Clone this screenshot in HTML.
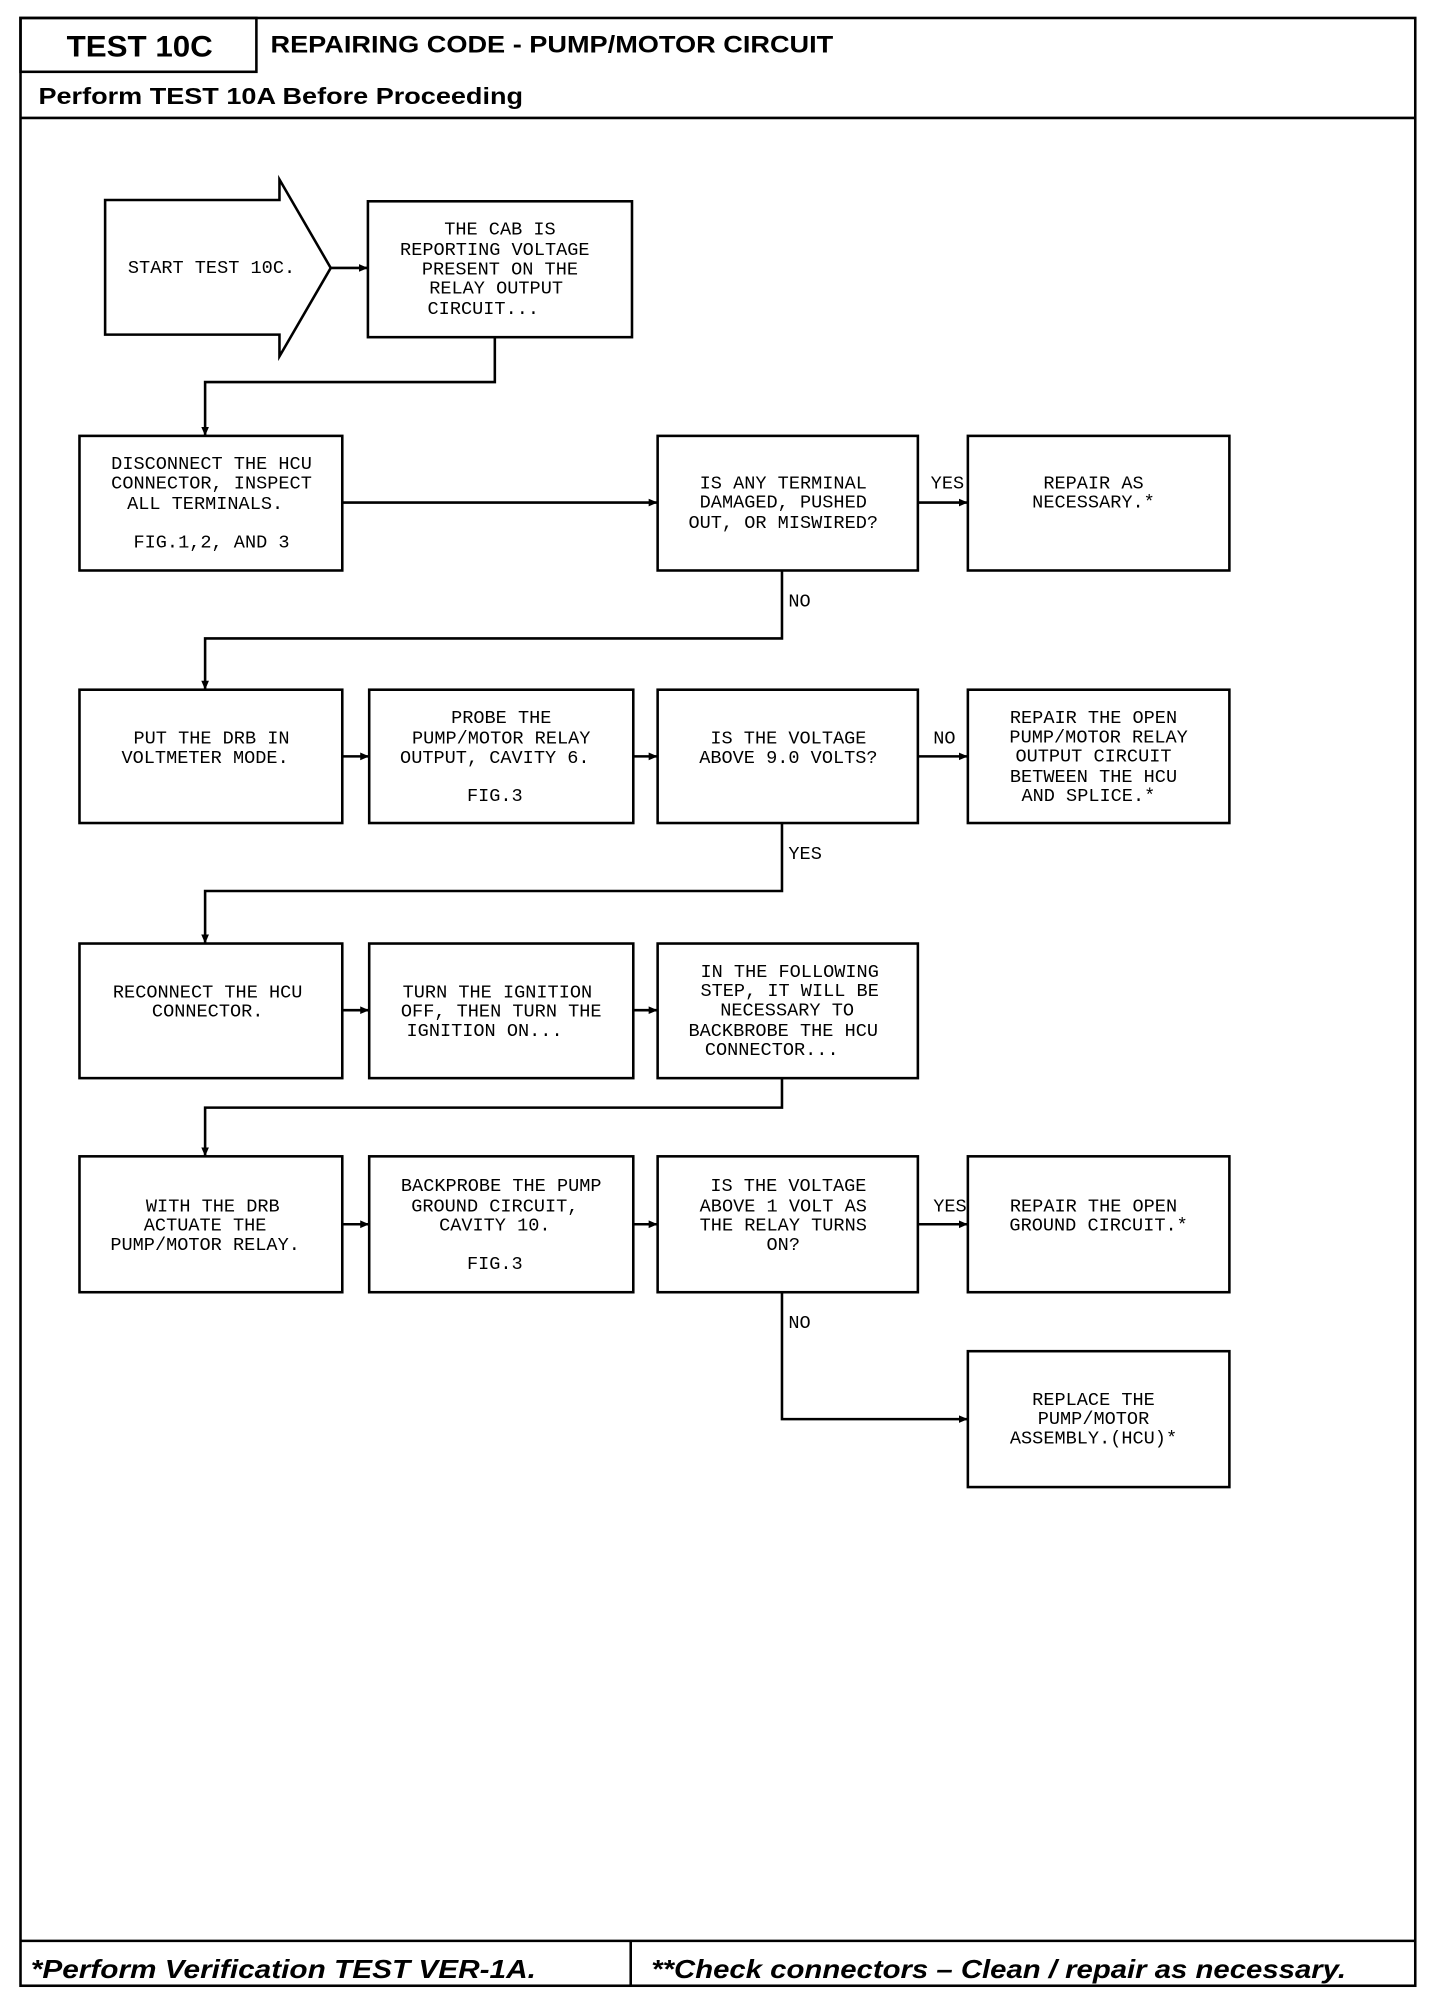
<!DOCTYPE html>
<html><head><meta charset="utf-8"><style>
html,body{margin:0;padding:0;background:#fff;}
svg{display:block;}
.t{font-family:"Liberation Mono",monospace;font-size:14.5px;fill:#000;text-anchor:middle;}
.l{font-family:"Liberation Mono",monospace;font-size:14.5px;fill:#000;}
.h{font-family:"Liberation Sans",sans-serif;font-weight:bold;fill:#000;}
</style></head><body>
<svg width="1440" height="1990" viewBox="0 0 1123.3 1552.3" xmlns="http://www.w3.org/2000/svg">
<defs><marker id="a" markerWidth="8" markerHeight="8" refX="7" refY="4" orient="auto" markerUnits="userSpaceOnUse"><path d="M0,1 L7,4 L0,7 Z" fill="#000"/></marker></defs>
<g fill="none" stroke="#000" stroke-width="2">
<rect x="16" y="14" width="1088" height="1535"/>
<rect x="16" y="14" width="184" height="42"/>
<line x1="16" y1="92" x2="1104" y2="92"/>
<line x1="16" y1="1514" x2="1104" y2="1514"/>
<line x1="492" y1="1514" x2="492" y2="1549"/>
<path d="M82,156 L218,156 L218,140 L258,209 L218,278 L218,261 L82,261 Z"/>
<rect x="287" y="157" width="206" height="106"/>
<rect x="62" y="340" width="205" height="105"/>
<rect x="513" y="340" width="203" height="105"/>
<rect x="755" y="340" width="204" height="105"/>
<rect x="62" y="538" width="205" height="104"/>
<rect x="288" y="538" width="206" height="104"/>
<rect x="513" y="538" width="203" height="104"/>
<rect x="755" y="538" width="204" height="104"/>
<rect x="62" y="736" width="205" height="105"/>
<rect x="288" y="736" width="206" height="105"/>
<rect x="513" y="736" width="203" height="105"/>
<rect x="62" y="902" width="205" height="106"/>
<rect x="288" y="902" width="206" height="106"/>
<rect x="513" y="902" width="203" height="106"/>
<rect x="755" y="902" width="204" height="106"/>
<rect x="755" y="1054" width="204" height="106"/>
<g marker-end="url(#a)">
<line x1="258" y1="209" x2="287" y2="209"/>
<path d="M386,263 V298 H160 V340"/>
<line x1="267" y1="392" x2="513" y2="392"/>
<line x1="716" y1="392" x2="755" y2="392"/>
<path d="M610,445 V498 H160 V538"/>
<line x1="267" y1="590" x2="288" y2="590"/>
<line x1="494" y1="590" x2="513" y2="590"/>
<line x1="716" y1="590" x2="755" y2="590"/>
<path d="M610,642 V695 H160 V736"/>
<line x1="267" y1="788" x2="288" y2="788"/>
<line x1="494" y1="788" x2="513" y2="788"/>
<path d="M610,841 V864 H160 V902"/>
<line x1="267" y1="955" x2="288" y2="955"/>
<line x1="494" y1="955" x2="513" y2="955"/>
<line x1="716" y1="955" x2="755" y2="955"/>
<path d="M610,1008 V1107 H755"/>
</g>
</g>
<text class="h" x="52" y="44" font-size="23" textLength="114" lengthAdjust="spacingAndGlyphs">TEST 10C</text>
<text class="h" x="211" y="41" font-size="19" textLength="439" lengthAdjust="spacingAndGlyphs">REPAIRING CODE - PUMP/MOTOR CIRCUIT</text>
<text class="h" x="30" y="81" font-size="18" textLength="378" lengthAdjust="spacingAndGlyphs">Perform TEST 10A Before Proceeding</text>
<text class="h" x="24" y="1543" font-size="20" font-style="italic" textLength="394" lengthAdjust="spacingAndGlyphs">*Perform Verification TEST VER-1A.</text>
<text class="h" x="508" y="1543" font-size="20" font-style="italic" textLength="542" lengthAdjust="spacingAndGlyphs">**Check connectors – Clean / repair as necessary.</text>
<g class="t">
<text x="165" y="213">START TEST 10C.</text>
<text x="390" y="183">THE CAB IS</text><text x="386" y="199">REPORTING VOLTAGE</text><text x="390" y="214">PRESENT ON THE</text><text x="387" y="229">RELAY OUTPUT</text><text x="377" y="245">CIRCUIT...</text>
<text x="165" y="366">DISCONNECT THE HCU</text><text x="165" y="381">CONNECTOR, INSPECT</text><text x="160" y="397">ALL TERMINALS.</text><text x="165" y="427">FIG.1,2, AND 3</text>
<text x="611" y="381">IS ANY TERMINAL</text><text x="611" y="396">DAMAGED, PUSHED</text><text x="611" y="412">OUT, OR MISWIRED?</text>
<text x="853" y="381">REPAIR AS</text><text x="853" y="396">NECESSARY.*</text>
<text x="165" y="580">PUT THE DRB IN</text><text x="160" y="595">VOLTMETER MODE.</text>
<text x="391" y="564">PROBE THE</text><text x="391" y="580">PUMP/MOTOR RELAY</text><text x="386" y="595">OUTPUT, CAVITY 6.</text><text x="386" y="625">FIG.3</text>
<text x="615" y="580">IS THE VOLTAGE</text><text x="615" y="595">ABOVE 9.0 VOLTS?</text>
<text x="853" y="564">REPAIR THE OPEN</text><text x="857" y="579">PUMP/MOTOR RELAY</text><text x="853" y="594">OUTPUT CIRCUIT</text><text x="853" y="610">BETWEEN THE HCU</text><text x="849" y="625">AND SPLICE.*</text>
<text x="162" y="778">RECONNECT THE HCU</text><text x="162" y="793">CONNECTOR.</text>
<text x="388" y="778">TURN THE IGNITION</text><text x="391" y="793">OFF, THEN TURN THE</text><text x="378" y="808">IGNITION ON...</text>
<text x="616" y="762">IN THE FOLLOWING</text><text x="616" y="777">STEP, IT WILL BE</text><text x="614" y="792">NECESSARY TO</text><text x="611" y="808">BACKBROBE THE HCU</text><text x="602" y="823">CONNECTOR...</text>
<text x="166" y="945">WITH THE DRB</text><text x="160" y="960">ACTUATE THE</text><text x="160" y="975">PUMP/MOTOR RELAY.</text>
<text x="391" y="929">BACKPROBE THE PUMP</text><text x="386" y="945">GROUND CIRCUIT,</text><text x="386" y="960">CAVITY 10.</text><text x="386" y="990">FIG.3</text>
<text x="615" y="929">IS THE VOLTAGE</text><text x="611" y="945">ABOVE 1 VOLT AS</text><text x="611" y="960">THE RELAY TURNS</text><text x="611" y="975">ON?</text>
<text x="853" y="945">REPAIR THE OPEN</text><text x="857" y="960">GROUND CIRCUIT.*</text>
<text x="853" y="1096">REPLACE THE</text><text x="853" y="1111">PUMP/MOTOR</text><text x="853" y="1126">ASSEMBLY.(HCU)*</text>
</g>
<g class="l">
<text x="726" y="381">YES</text><text x="615" y="473">NO</text>
<text x="728" y="580">NO</text><text x="615" y="670">YES</text>
<text x="728" y="945">YES</text><text x="615" y="1036">NO</text>
</g>
</svg>
</body></html>
